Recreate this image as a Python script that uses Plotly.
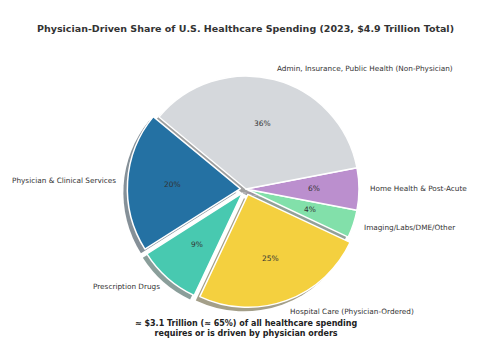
import numpy as np
import plotly.graph_objects as go

categories = ["Physician & Clinical Services", "Prescription Drugs", "Hospital Care (Physician-Ordered)",
              "Imaging/Labs/DME/Other", "Home Health & Post-Acute", "Admin, Insurance, Public Health (Non-Physician)"]
shares = [20, 9, 25, 4, 6, 36]
colors = ["#2471a3", "#48c9b0", "#f4d03f", "#82e0aa", "#bb8fce", "#d5d8dc"]
pulls = [0.05, 0.05, 0.05, 0, 0, 0]
start_angle = 140.4  # degrees, counterclockwise order starting here

def shade(hexc):
    h = hexc.lstrip("#")
    r, g, b = (int(h[i:i+2], 16) for i in (0, 2, 4))
    return "rgb(%d,%d,%d)" % tuple(round(127.5 + 0.15 * c) for c in (r, g, b))

shadow_colors = [shade(c) for c in colors]

OFF = 8  # page body margin
W, H = 480, 360
cx, cy, R = 246 - OFF, 189 - OFF, 113
ext = 1 + max(pulls)
half = R * ext
dom_x = [(cx - half) / W, (cx + half) / W]
dom_y = [(H - cy - half) / H, (H - cy + half) / H]
sx, sy = -4 / W, -4 / H

first_span = 360 * shares[0] / sum(shares)
rotation = 90 - (start_angle + first_span)

common = dict(values=shares, labels=categories, sort=False, direction="counterclockwise",
              rotation=rotation, pull=pulls, showlegend=False, hoverinfo="skip", textinfo="none")

fig = go.Figure()
fig.add_trace(go.Pie(**common, marker=dict(colors=shadow_colors, line=dict(width=0)),
                     domain=dict(x=[dom_x[0] + sx, dom_x[1] + sx], y=[dom_y[0] + sy, dom_y[1] + sy])))
fig.add_trace(go.Pie(**common, marker=dict(colors=colors, line=dict(color="white", width=1.5)),
                     domain=dict(x=dom_x, y=dom_y)))

# axes aligned with the pie: 1 unit = pie radius
XR = 1.9
YR = 1.45
ax_x = [(cx - XR * R) / W, (cx + XR * R) / W]
ax_y = [(H - cy - YR * R) / H, (H - cy + YR * R) / H]

vals = np.array(shares, dtype=float)
cum = np.concatenate([[0], np.cumsum(vals)]) / vals.sum() * 360
mid = np.radians(start_angle + (cum[:-1] + cum[1:]) / 2)
p = np.array(pulls)
ox, oy = p * np.cos(mid), p * np.sin(mid)
lx, ly = ox + 1.1 * np.cos(mid), oy + 1.1 * np.sin(mid)
px_, py_ = ox + 0.6 * np.cos(mid), oy + 0.6 * np.sin(mid)
pct = ["%.0f%%" % (v / vals.sum() * 100) for v in vals]

fig.add_trace(go.Scatter(x=[0], y=[0], mode="markers", marker=dict(opacity=0), showlegend=False, hoverinfo="skip"))

annots = []
for x, y, t in zip(px_, py_, pct):
    annots.append(dict(x=x, y=y, xref="x", yref="y", text=t, showarrow=False, xanchor="center", yanchor="middle",
                       font=dict(family="DejaVu Sans", size=7.5, color="#333333")))
for x, y, t in zip(lx, ly, categories):
    annots.append(dict(x=x, y=y, xref="x", yref="y", text=t, showarrow=False,
                       xanchor="left" if x > 0 else "right", yanchor="middle",
                       xshift=-2 if x > 0 else 2,
                       font=dict(family="DejaVu Sans", size=7.3, color="#333333")))
annots.append(dict(text="<b>≈ $3.1 Trillion (≈ 65%) of all healthcare spending<br>requires or is driven by physician orders</b>",
                   x=(246 - OFF) / W, y=1 - (328 - OFF) / H, xref="paper", yref="paper", xanchor="center", yanchor="middle",
                   showarrow=False, font=dict(family="DejaVu Sans", size=8, color="#222222")))

fig.update_layout(
    width=W, height=H, margin=dict(l=0, r=0, t=0, b=0),
    paper_bgcolor="white", plot_bgcolor="rgba(0,0,0,0)",
    xaxis=dict(domain=ax_x, range=[-XR, XR], visible=False, fixedrange=True),
    yaxis=dict(domain=ax_y, range=[-YR, YR], visible=False, fixedrange=True),
    title=dict(text="<b>Physician-Driven Share of U.S. Healthcare Spending (2023, $4.9 Trillion Total)</b>",
               x=(245.5 - OFF) / W, xanchor="center", y=1 - (29 - OFF) / H, yanchor="middle",
               font=dict(family="DejaVu Sans", size=9.5, color="#333333")),
    annotations=annots,
)
fig.write_html("out.html")
